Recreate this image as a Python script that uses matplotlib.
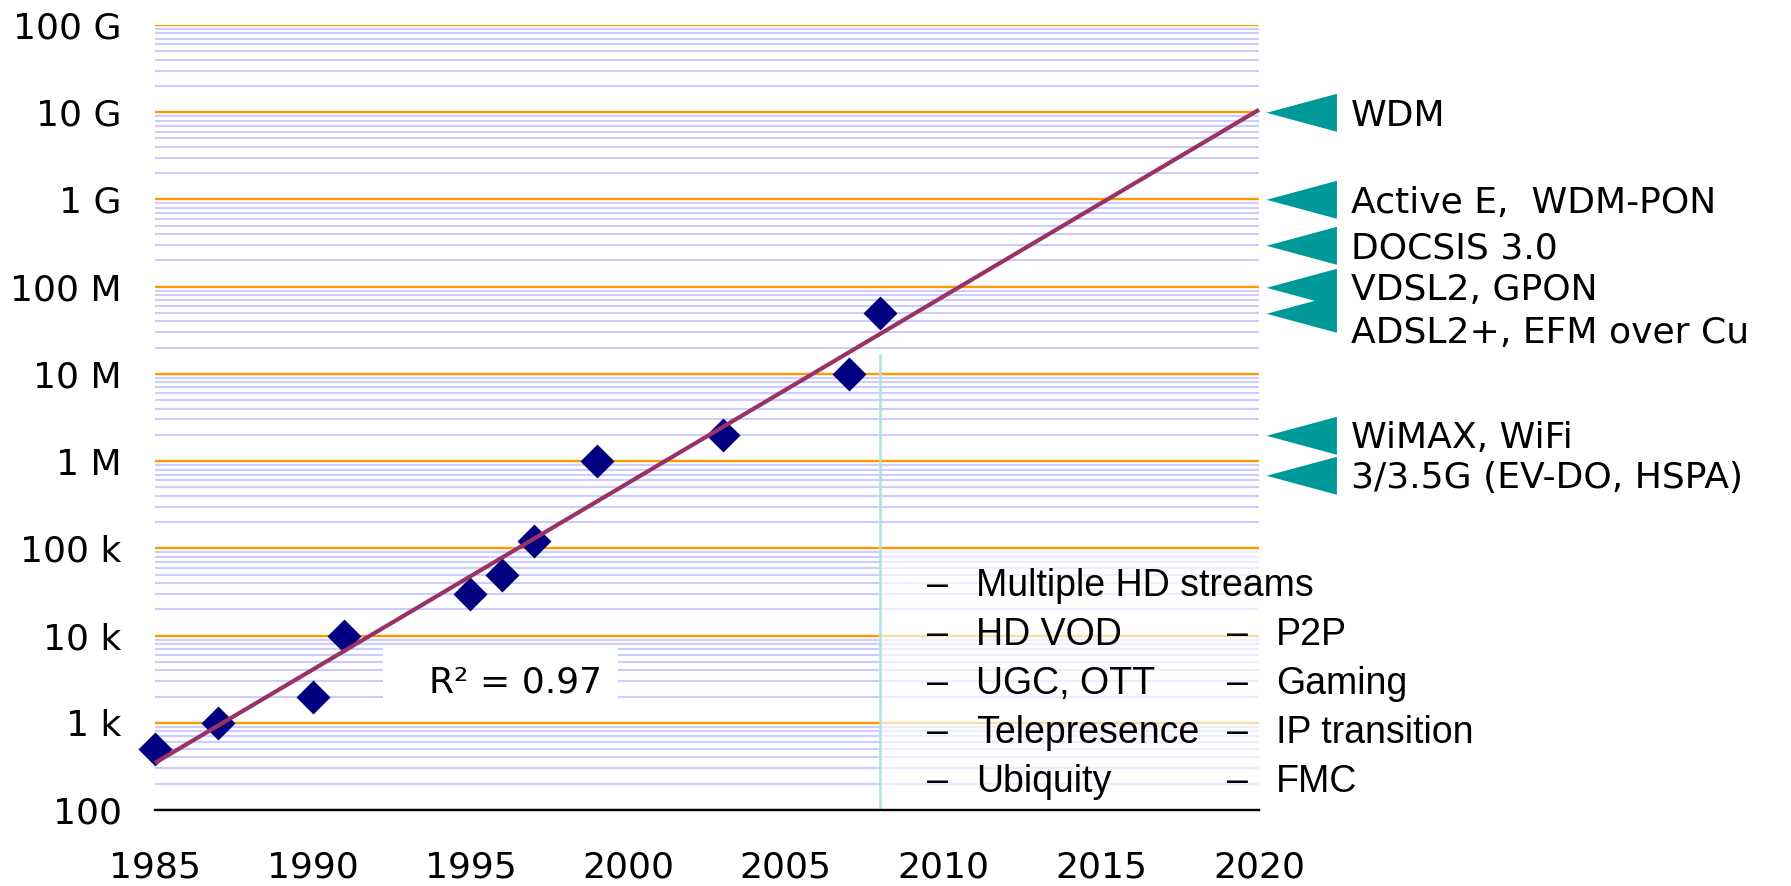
import numpy as np
import matplotlib
matplotlib.use("Agg")
from matplotlib import pyplot as plt
from matplotlib import transforms
from matplotlib.patches import Rectangle
from matplotlib.ticker import LogLocator, NullFormatter, FixedLocator

# measured bandwidth per year (bit/s)
years = [1985, 1987, 1990, 1991, 1995, 1996, 1997, 1999, 2003, 2007, 2008]
bps = [500, 1e3, 2e3, 1e4, 3e4, 5e4, 1.2e5, 1e6, 2e6, 1e7, 5e7]

# access technologies shown on the right
tech_rates = [1e10, 1e9, 3e8, 1e8, 5e7, 2e6, 7e5]
tech_names = ["WDM", "Active E,  WDM-PON", "DOCSIS 3.0", "VDSL2, GPON",
              "ADSL2+, EFM over Cu", "WiMAX, WiFi", "3/3.5G (EV-DO, HSPA)"]

# applications listed lower right
apps_left = ["Multiple HD streams", "HD VOD", "UGC, OTT", "Telepresence", "Ubiquity"]
apps_right = ["P2P", "Gaming", "IP transition", "FMC"]

ytick_vals = [1e2, 1e3, 1e4, 1e5, 1e6, 1e7, 1e8, 1e9, 1e10, 1e11]
ytick_labels = ["100", "1 k", "10 k", "100 k", "1 M", "10 M", "100 M", "1 G", "10 G", "100 G"]
xtick_vals = [1985, 1990, 1995, 2000, 2005, 2010, 2015, 2020]
r2_text = "R\u00b2 = 0.97"

W, H = 1791, 886
fig = plt.figure(figsize=(W / 100, H / 100), dpi=100)
ax = fig.add_axes([155 / W, 1 - 810 / H, 1104 / W, 785 / H])

ax.set_yscale("log")
ax.set_xlim(1985, 2020)
ax.set_ylim(100, 1e11)
ax.yaxis.set_major_locator(FixedLocator(ytick_vals))
ax.yaxis.set_minor_locator(LogLocator(base=10, subs=range(2, 10), numticks=50))
ax.yaxis.set_minor_formatter(NullFormatter())
ax.set_yticklabels(ytick_labels)
ax.set_xticks(xtick_vals)
ax.set_xticklabels([str(x) for x in xtick_vals])

ax.set_axisbelow(True)
ax.grid(which="minor", axis="y", color="#ccccff", lw=1.5)
ax.grid(which="major", axis="y", color="#ff9900", lw=1.7)
ax.grid(which="both", axis="x", visible=False)
ax.tick_params(which="both", length=0)
ax.tick_params(axis="y", pad=24, labelsize=26)
ax.tick_params(axis="x", pad=29, labelsize=26)
for s in ["left", "top", "right"]:
    ax.spines[s].set_visible(False)
ax.spines["bottom"].set_color("black")
ax.spines["bottom"].set_linewidth(1.7)

# data points and log-linear trend
ax.plot(years, bps, "D", color="#000080", ms=17, mec="none", zorder=3, clip_on=False)
coef = np.polyfit(years, np.log10(bps), 1)
xs = np.array([1985, 2020])
ax.plot(xs, 10 ** np.polyval(coef, xs), color="#993366", lw=3, zorder=4,
        clip_on=False, solid_capstyle="butt")

# R^2 label box
ax.add_patch(Rectangle((0.2065, 0.1274), 0.2129, 0.0828, transform=ax.transAxes,
                       facecolor="white", edgecolor="none", zorder=2))
ax.text(0.327, 0.1669, r2_text, transform=ax.transAxes, fontsize=26,
        ha="center", va="center_baseline", zorder=5)

# 2008 marker line and faded area for the list
ax.add_patch(Rectangle((2008, 100), 12, 9.5e4 - 100, facecolor="white",
                       alpha=0.65, edgecolor="none", zorder=1))
ax.plot([2008, 2008], [100, 1.66e7], color="#b0e0e0", lw=1.8, zorder=2.5)

list_font = ["Liberation Sans", "DejaVu Sans"]
for i, name in enumerate(apps_left):
    y = (810 - (582 + 49 * i)) / 785
    ax.text(0.699, y, "\u2013", transform=ax.transAxes, fontsize=27,
            family=list_font, va="center_baseline", ha="left")
    ax.text(0.7437, y, name, transform=ax.transAxes, fontsize=27,
            family=list_font, va="center_baseline", ha="left")
for i, name in enumerate(apps_right):
    y = (810 - (631 + 49 * i)) / 785
    ax.text(0.971, y, "\u2013", transform=ax.transAxes, fontsize=27,
            family=list_font, va="center_baseline", ha="left", clip_on=False)
    ax.text(1.0154, y, name, transform=ax.transAxes, fontsize=27,
            family=list_font, va="center_baseline", ha="left", clip_on=False)

# technology arrows on the right
trans = transforms.blended_transform_factory(ax.transAxes, ax.transData)
tri = [(-1, 0), (1, 0.54), (1, -0.54)]
for rate, name in zip(tech_rates, tech_names):
    ax.plot([1.038], [rate], marker=tri, ms=51.8, color="#009999", mec="white",
            mew=0.8, transform=trans, clip_on=False, zorder=6 if "VDSL" in name else 5)
    dy = -12 if name.startswith("ADSL") else 0
    ax.annotate(name, xy=(1.083, rate), xycoords=trans, xytext=(0, dy),
                textcoords="offset points", fontsize=26,
                va="center_baseline", ha="left", annotation_clip=False)

fig.savefig("out.png", dpi=100)
